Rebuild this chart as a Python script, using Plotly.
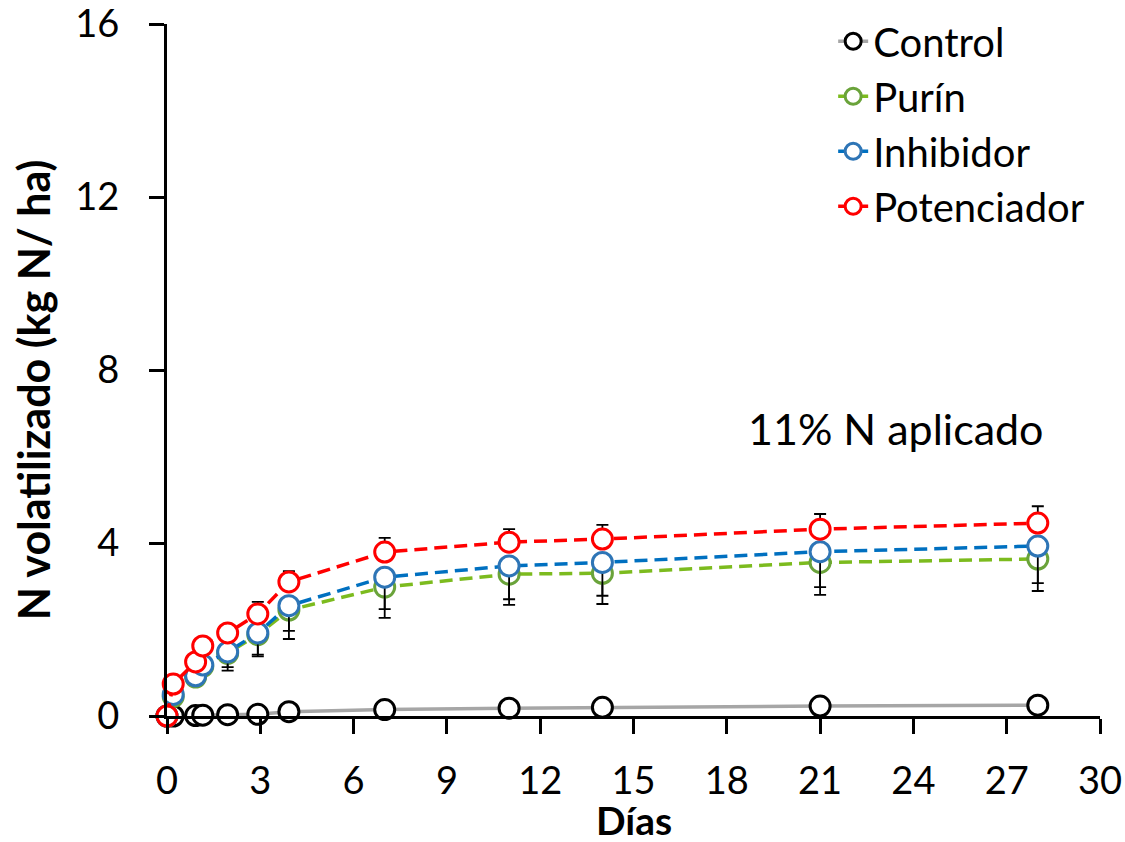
import plotly.graph_objects as go

days = [0, 0.2, 0.92, 1.15, 1.95, 2.92, 3.92, 7, 11, 14, 21, 28]

control = [0, 0, 0.01, 0.02, 0.03, 0.04, 0.1, 0.15, 0.18, 0.2, 0.23, 0.25]
purin = [0, 0.45, 0.9, 1.15, 1.45, 1.88, 2.45, 2.98, 3.28, 3.3, 3.55, 3.63]
inhibidor = [0, 0.5, 0.93, 1.18, 1.48, 1.92, 2.55, 3.21, 3.47, 3.55, 3.8, 3.93]
potenciador = [0, 0.74, 1.25, 1.62, 1.92, 2.36, 3.1, 3.79, 4.02, 4.09, 4.32, 4.46]

purin_err = [0, 0.1, 0.15, 0.2, 0.4, 0.5, 0.67, 0.71, 0.71, 0.71, 0.75, 0.74]
inhibidor_err = [0, 0.1, 0.15, 0.2, 0.35, 0.5, 0.58, 0.74, 0.77, 0.77, 0.82, 0.86]
potenciador_err = [0, 0.05, 0.08, 0.1, 0.12, 0.28, 0.25, 0.33, 0.3, 0.33, 0.35, 0.39]

x_ticks = [0, 3, 6, 9, 12, 15, 18, 21, 24, 27, 30]
y_ticks = [0, 4, 8, 12, 16]

FONT = "Lato"
zeros = [0] * len(days)

fig = go.Figure()

fig.add_trace(go.Scatter(
    x=days, y=control, name="Control", mode="lines+markers",
    line=dict(color="#A6A6A6", width=3.5),
    marker=dict(symbol="circle", size=20, color="white", line=dict(color="black", width=3)),
    cliponaxis=False,
))

def dashed(name, vals, line_col, mk_col, err_plus, err_minus):
    fig.add_trace(go.Scatter(
        x=days, y=vals, name=name, mode="lines+markers",
        line=dict(color=line_col, width=3.5, dash="13px,7px"),
        marker=dict(symbol="circle", size=20, color="white", line=dict(color=mk_col, width=3)),
        error_y=dict(type="data", symmetric=False, array=err_plus, arrayminus=err_minus,
                     color="black", thickness=1.8, width=6),
        cliponaxis=False,
    ))

dashed("Purín", purin, "#7CBB1E", "#6AA33A", zeros, purin_err)
dashed("Inhibidor", inhibidor, "#0070C0", "#2E75B6", zeros, inhibidor_err)
dashed("Potenciador", potenciador, "#FF0000", "#FF0000", potenciador_err, zeros)

fig.add_annotation(
    x=23.45, y=6.65, xref="x", yref="y", text="11% N aplicado", showarrow=False,
    xanchor="center", yanchor="middle",
    font=dict(family=FONT, size=43, color="black"),
)
fig.add_annotation(
    x=-0.1435, y=0.471, xref="paper", yref="paper", text="<b>N volatilizado (kg N/ ha)</b>",
    textangle=-90, showarrow=False, xanchor="center", yanchor="middle",
    font=dict(family=FONT, size=43, color="black"),
)
fig.add_annotation(
    x=0.5, y=-0.151, xref="paper", yref="paper", text="<b>Días</b>", showarrow=False,
    xanchor="center", yanchor="middle", font=dict(family=FONT, size=39, color="black"),
)

fig.update_layout(
    width=1125, height=842,
    margin=dict(l=167, r=25, t=24, b=126, autoexpand=False),
    paper_bgcolor="white", plot_bgcolor="white",
    font=dict(family=FONT, size=38, color="black"),
    showlegend=True,
    legend=dict(x=0.714, y=1.022, xanchor="left", yanchor="top",
                bgcolor="rgba(0,0,0,0)", font=dict(family=FONT, size=40),
                tracegroupgap=0, itemsizing="trace"),
    xaxis=dict(range=[0, 30], tickvals=x_ticks, ticktext=[str(v) for v in x_ticks],
               showline=True, linecolor="black", linewidth=3, automargin=False,
               ticks="outside", ticklen=15, tickwidth=3, tickcolor="black",
               showgrid=False, zeroline=False, ticklabelstandoff=14,
               ticklabeloverflow="allow",
               tickfont=dict(family=FONT, size=38)),
    yaxis=dict(range=[0, 16], tickvals=y_ticks, ticktext=[str(v) for v in y_ticks],
               showline=True, linecolor="black", linewidth=3, automargin=False,
               ticks="outside", ticklen=15, tickwidth=3, tickcolor="black",
               showgrid=False, zeroline=False, ticklabelstandoff=22,
               ticklabeloverflow="allow",
               tickfont=dict(family=FONT, size=38)),
)

fig.write_html(
    "out.html",
    config={"displayModeBar": False},
    post_script="document.body.style.margin='0';document.body.style.overflow='hidden';",
)
